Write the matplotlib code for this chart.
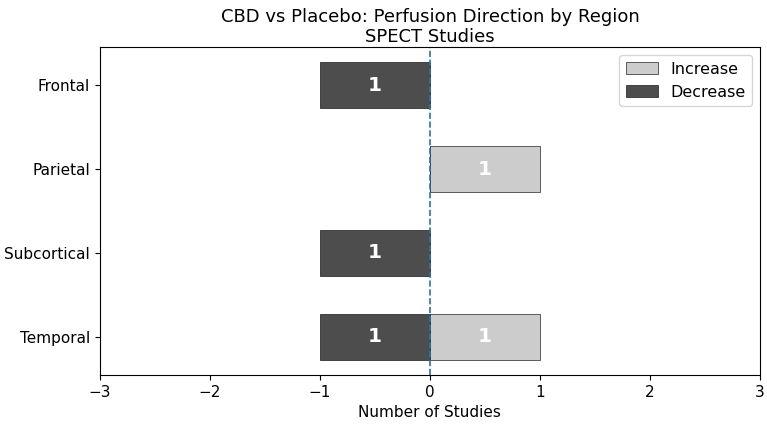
import numpy as np
import matplotlib.pyplot as plt

# Données
regions = ["Frontal", "Parietal", "Subcortical", "Temporal"]
increase = [0, 1, 0, 1]
decrease = [1, 0, 1, 1]

fig, ax = plt.subplots(figsize=(7.67, 4.25), dpi=100)
fig.subplots_adjust(left=0.130, right=0.991, top=0.889, bottom=0.118)

y = np.arange(len(regions))
bars_inc = ax.barh(y, increase, height=0.55, color="#cccccc", edgecolor="#444444",
                   linewidth=0.6, label="Increase")
bars_dec = ax.barh(y, [-d for d in decrease], height=0.55, color="#4d4d4d",
                   edgecolor="#333333", linewidth=0.6, label="Decrease")

# Étiquettes dans les barres
for i in range(len(regions)):
    if increase[i] > 0:
        ax.text(increase[i] / 2, y[i], str(increase[i]), ha="center", va="center",
                color="white", fontsize=14.5, fontweight="bold")
    if decrease[i] > 0:
        ax.text(-decrease[i] / 2, y[i], str(decrease[i]), ha="center", va="center",
                color="white", fontsize=14.5, fontweight="bold")

ax.axvline(0, color="#1f77b4", linestyle="--", linewidth=1.2)

ax.set_yticks(y)
ax.set_yticklabels(regions, fontsize=11)
ax.invert_yaxis()
ax.set_xlim(-3, 3)
ax.set_xticks([-3, -2, -1, 0, 1, 2, 3])
ax.tick_params(axis="x", labelsize=11)
ax.set_xlabel("Number of Studies", fontsize=11)
ax.set_title("CBD vs Placebo: Perfusion Direction by Region\nSPECT Studies", fontsize=13,
             linespacing=1.1, pad=4)
ax.legend(loc="upper right", fontsize=11.5)

plt.savefig("out.png", dpi=100)
